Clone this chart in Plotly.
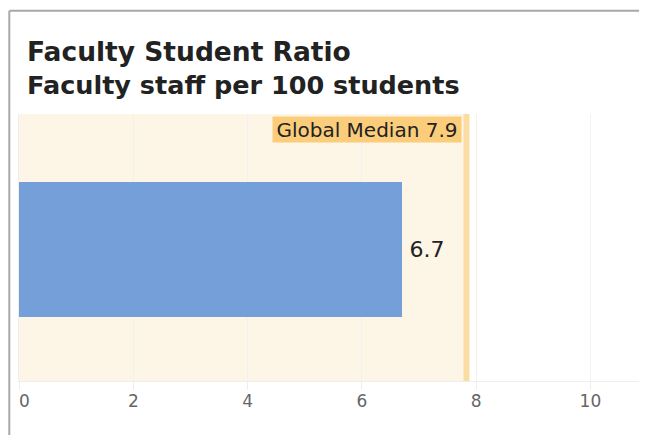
import plotly.graph_objects as go

# data
category = ["Faculty Student Ratio"]
ratio = [6.7]
median_value = 7.83
median_text = "Global Median 7.9"
tick_values = [0, 2, 4, 6, 8, 10]
tick_labels = ["\u00a0\u00a00", "2", "4", "6", "8", "10"]

FONT = "Verdana, DejaVu Sans, sans-serif"

fig = go.Figure()

fig.add_trace(
    go.Bar(
        x=ratio,
        y=category,
        orientation="h",
        width=0.51,
        marker=dict(color="#749fd9", line=dict(width=0)),
        text=["\u2009" + f"{v:.1f}" for v in ratio],
        textposition="outside",
        textfont=dict(family=FONT, size=22, color="#222222"),
        cliponaxis=False,
        hoverinfo="skip",
    )
)

# shaded band up to the median, then the median line itself
fig.add_shape(
    type="rect", xref="x", yref="paper",
    x0=0, x1=median_value - 0.05, y0=0, y1=1,
    fillcolor="#fdf5e6", line_width=0, layer="below",
)
fig.add_shape(
    type="line", xref="x", yref="paper",
    x0=median_value, x1=median_value, y0=0, y1=1,
    line=dict(color="#fbdca2", width=6), layer="below",
)
fig.add_annotation(
    x=median_value - 0.07, xref="x", xanchor="right",
    y=0.993, yref="paper", yanchor="top",
    text=median_text, showarrow=False,
    width=186, height=23,
    font=dict(family=FONT, size=20, color="#222222"),
    bgcolor="#fbcd7b", borderpad=1,
)

# card border (left and top edges, rest is cut off)
fig.add_shape(
    type="line", xref="paper", yref="paper",
    x0=-0.01525, x1=-0.01525, y0=-0.3, y1=1.3869,
    line=dict(color="#a8a8a8", width=2),
)
fig.add_shape(
    type="line", xref="paper", yref="paper",
    x0=-0.01525, x1=1.1, y0=1.3869, y1=1.3869,
    line=dict(color="#a8a8a8", width=2),
)

fig.update_layout(
    width=647,
    height=435,
    margin=dict(l=11, r=0, t=106, b=62),
    paper_bgcolor="white",
    plot_bgcolor="white",
    showlegend=False,
    bargap=0,
    title=dict(
        text="<b><span style='font-size:26.5px'>Faculty Student Ratio</span><br>Faculty staff per 100 students</b>",
        x=19 / 647, xref="container", xanchor="left",
        y=1 - 53 / 435, yref="container", yanchor="top",
        font=dict(family=FONT, size=25.5, color="#222222"),
    ),
    xaxis=dict(
        range=[0, 11.13],
        tickvals=tick_values,
        ticktext=tick_labels,
        automargin=False,
        showgrid=True,
        gridcolor="#f1f1f1",
        gridwidth=1,
        zeroline=False,
        showline=True,
        linecolor="#eeeeee",
        linewidth=1,
        ticks="outside",
        ticklen=8,
        tickcolor="#eeeeee",
        ticklabelstandoff=-3,
        ticklabeloverflow="allow",
        tickfont=dict(family=FONT, size=17, color="#666666"),
    ),
    yaxis=dict(
        automargin=False,
        showticklabels=False,
        showgrid=False,
        zeroline=False,
        showline=True,
        linecolor="#eeeeee",
        linewidth=1,
        range=[-0.5, 0.515],
    ),
)

fig.write_html("out.html")
